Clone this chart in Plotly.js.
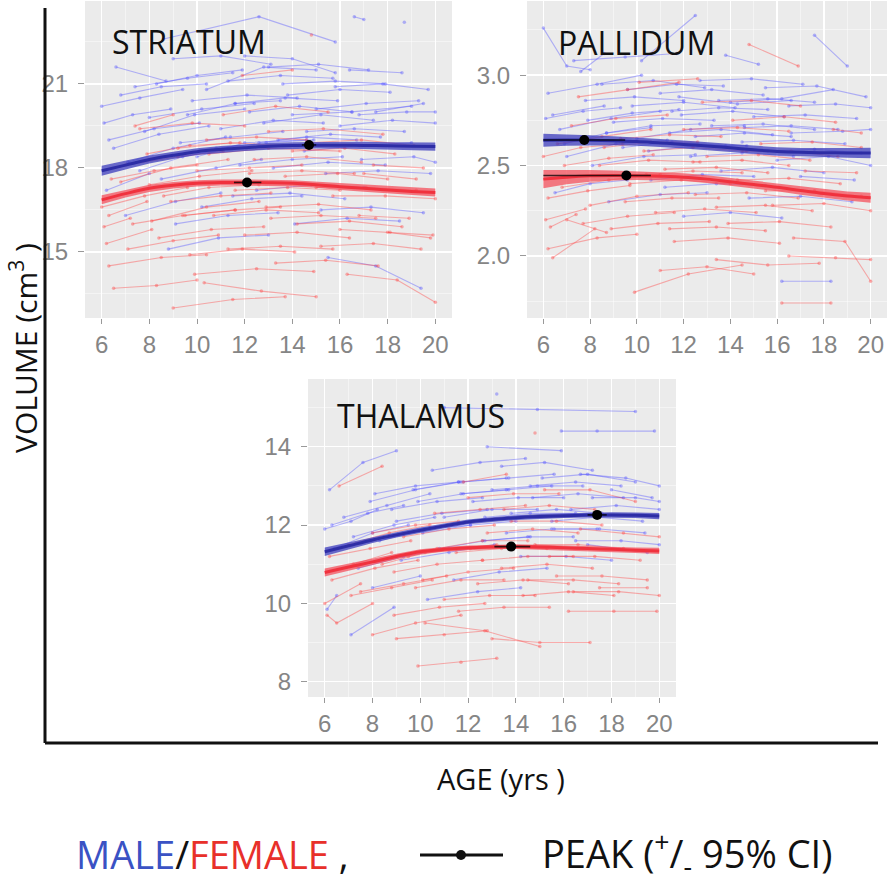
<!DOCTYPE html>
<html>
<head>
<meta charset="utf-8">
<script src="https://cdn.plot.ly/plotly-3.0.1.min.js"></script>
<style>html,body{margin:0;padding:0;background:#fff;}#chart{width:889px;height:880px;}</style>
</head>
<body>
<div id="chart"></div>
<script>
// ---------------- DATA ----------------
const xTickAges = [6, 8, 10, 12, 14, 16, 18, 20];
const panelNames = ["STRIATUM", "PALLIDUM", "THALAMUS"];

// individual trajectories: [ages, volumes]
const striatumMale = [
[[6.0,7.6,9.4],[20.2,20.5,20.8]],
[[6.3,8.2,10.1],[19.0,19.4,19.6]],
[[6.6,8.7],[21.6,21.1]],
[[7.1,9.0,11.2],[18.2,18.7,19.1]],
[[7.4,9.6,11.5],[20.9,21.2,21.4]],
[[8.0,10.2,12.4],[19.8,20.1,20.3]],
[[8.5,10.8,12.7],[17.6,18.0,18.3]],
[[9.0,11.0,13.1],[21.9,22.0,21.7]],
[[9.3,11.4,13.6],[18.9,19.1,19.3]],
[[9.8,12.1,14.2],[20.4,20.6,20.5]],
[[10.2,12.3,14.4],[16.6,16.9,17.0]],
[[8.6,12.6,15.8],[22.6,23.4,22.5]],
[[11.0,13.2,15.3],[19.4,19.7,19.6]],
[[11.3,13.5,15.7],[21.1,21.3,21.2]],
[[11.8,14.0,16.1],[18.1,18.3,18.4]],
[[12.2,14.3,16.5],[20.0,20.2,20.0]],
[[12.5,14.8,17.0],[17.2,17.4,17.3]],
[[13.0,15.1,17.2],[21.6,21.7,21.5]],
[[13.4,15.6,17.7],[19.0,19.2,19.1]],
[[13.8,16.0,18.1],[20.6,20.8,20.7]],
[[14.1,16.3,18.5],[16.0,16.2,16.1]],
[[14.5,16.8,19.0],[18.6,18.8,18.9]],
[[15.0,17.1,19.3],[20.1,20.3,20.4]],
[[15.4,17.6,19.8],[17.8,17.9,17.8]],
[[16.0,18.2,20.0],[19.5,19.7,19.6]],
[[16.4,18.6],[21.5,21.4]],
[[16.9,19.1,20.0],[18.3,18.4,18.2]],
[[6.2,8.0],[17.2,17.8]],
[[7.0,9.1,11.0],[16.3,16.8,17.1]],
[[8.8,10.9,13.0],[15.1,15.5,15.6]],
[[10.0,12.0,14.6],[18.4,18.9,19.0]],
[[12.0,14.0,15.8],[22.0,21.9,21.4]],
[[14.0,16.5,19.0],[19.9,20.0,20.2]],
[[15.5,17.5,19.4],[14.8,14.5,13.7]],
[[16.6,17.0],[23.4,23.3]],
[[18.7],[23.2]],
[[7.8,9.9,12.0],[19.3,19.9,20.1]],
[[11.5,13.9,16.2],[17.0,17.1,16.9]],
[[10.4,12.8,15.0],[20.8,21.6,21.5]],
[[13.2,15.5,17.9],[18.0,18.2,18.1]],
[[6.5,8.4,10.5],[18.7,19.2,19.5]],
[[17.5,19.5],[20.0,20.3]],
[[12.8,15.2,17.4],[19.6,19.9,19.7]],
[[6.1,7.3,8.9],[19.6,19.9,20.1]],
[[6.8,8.5,10.4],[20.6,20.9,21.0]],
[[7.6,9.4,11.3],[17.9,18.4,18.7]],
[[8.3,10.0,11.9],[21.0,21.3,21.5]],
[[9.6,11.6,13.5],[19.9,20.3,20.4]],
[[10.8,12.9,14.9],[18.7,18.9,19.0]],
[[11.6,13.7,15.9],[20.3,20.5,20.4]],
[[12.6,14.6,16.7],[18.9,19.1,19.0]],
[[13.6,15.8,17.9],[21.0,21.1,21.0]],
[[14.6,16.6,18.7],[19.3,19.4,19.3]],
[[15.8,17.8,19.7],[20.9,21.0,20.8]],
[[16.8,18.8,20.0],[19.9,20.0,20.0]],
[[9.1,11.3,13.4],[16.0,16.3,16.4]],
[[15.2,17.3,19.5],[16.5,16.6,16.4]]
];
const striatumFemale = [
[[6.0,7.8,9.6],[16.6,17.0,17.3]],
[[6.2,8.1],[15.3,15.8]],
[[6.3,8.5,10.4],[14.5,14.8,14.9]],
[[6.5,8.3,10.0],[13.7,13.8,14.0]],
[[7.0,9.2,11.1],[18.1,18.4,18.6]],
[[7.3,9.4,11.6],[16.0,16.3,16.5]],
[[7.6,9.8,12.0],[19.4,19.6,19.5]],
[[8.0,10.1,12.3],[17.4,17.7,17.9]],
[[8.4,10.6,12.8],[15.5,15.8,15.9]],
[[8.9,11.0,13.1],[16.8,17.0,17.1]],
[[9.2,11.4,13.6],[18.7,18.9,18.8]],
[[9.7,11.9,14.1],[14.9,15.1,15.0]],
[[10.0,12.2,14.4],[17.9,18.0,18.1]],
[[10.3,12.7,15.0],[13.9,13.6,13.4]],
[[10.7,12.9,15.1],[16.3,16.5,16.4]],
[[11.1,13.3,15.5],[19.9,20.2,20.0]],
[[11.6,13.8,16.0],[17.2,17.3,17.2]],
[[12.0,14.2,16.4],[15.6,15.7,15.5]],
[[12.4,14.6,16.9],[18.3,18.4,18.2]],
[[12.9,15.1,17.3],[16.6,16.7,16.5]],
[[13.3,15.4,17.6],[14.6,14.7,14.5]],
[[13.7,15.9,18.0],[17.7,17.8,17.6]],
[[14.2,16.4,18.6],[16.0,16.1,15.9]],
[[14.7,16.9,19.1],[18.9,19.0,18.8]],
[[15.2,17.4,19.4],[15.2,15.3,15.1]],
[[15.7,17.9,20.0],[17.0,17.0,16.9]],
[[16.3,18.4,20.0],[14.2,14.0,13.2]],
[[16.8,18.9],[16.3,16.2]],
[[17.4,19.5],[18.1,18.0]],
[[6.8,8.9,11.3],[17.5,18.0,18.3]],
[[9.9,12.5,14.9],[14.2,14.4,14.3]],
[[11.9,14.0],[21.3,21.5]],
[[14.8],[22.75]],
[[7.4,9.0],[19.5,19.9]],
[[8.1,10.4,12.6],[16.1,16.6,16.8]],
[[13.0,15.3,17.8],[19.3,19.4,19.2]],
[[18.0,19.8],[15.7,15.5]],
[[9.0,11.5,13.7],[13.0,13.3,13.4]],
[[10.5,13.0,16.0],[18.5,18.7,18.6]],
[[6.1,7.2],[15.9,16.2]],
[[6.4,8.2,10.0],[17.6,17.9,18.1]],
[[7.1,9.0,10.9],[15.1,15.4,15.6]],
[[7.9,9.7,11.8],[18.5,18.8,18.9]],
[[8.6,10.5,12.6],[17.0,17.3,17.4]],
[[9.5,11.6,13.5],[16.3,16.5,16.6]],
[[10.4,12.5,14.6],[19.0,19.1,19.0]],
[[11.3,13.5,15.7],[15.1,15.2,15.1]],
[[12.2,14.4,16.6],[17.8,17.9,17.8]],
[[13.1,15.2,17.5],[16.2,16.3,16.2]],
[[14.0,16.2,18.3],[18.6,18.7,18.5]],
[[15.0,17.1,19.2],[17.3,17.3,17.2]],
[[16.0,18.1,19.9],[15.8,15.7,15.6]],
[[6.3,7.9],[16.3,16.8]],
[[17.0,19.2],[17.8,17.6]]
];
const pallidumMale = [
[[6.0,7.0,8.0],[3.26,3.05,3.03]],
[[6.2,8.3,10.2],[2.90,2.95,3.00]],
[[6.4,8.6],[2.78,2.83]],
[[6.7,8.9,11.0],[2.70,2.76,2.80]],
[[7.0,9.1,11.3],[2.55,2.62,2.64]],
[[7.3,9.5,11.7],[3.08,3.10,3.12]],
[[7.8,9.9,12.0],[2.86,2.88,2.86]],
[[8.1,10.3,12.5],[2.50,2.55,2.56]],
[[8.5,10.7,12.9],[2.95,2.97,2.93]],
[[9.0,11.1,13.3],[2.74,2.76,2.75]],
[[9.4,11.5,13.8],[2.60,2.63,2.61]],
[[9.8,12.0,14.2],[2.83,2.85,2.82]],
[[10.2,12.5],[3.08,3.33]],
[[10.6,12.8,15.0],[2.42,2.45,2.44]],
[[11.0,13.2,15.4],[2.90,2.92,2.89]],
[[11.4,13.6,15.8],[2.68,2.70,2.67]],
[[11.9,14.1,16.3],[2.78,2.80,2.77]],
[[12.3,14.5,16.7],[2.55,2.57,2.55]],
[[12.7,14.9,17.1],[2.97,2.98,2.95]],
[[13.2,15.4,17.6],[2.72,2.73,2.70]],
[[13.6,15.8,18.0],[2.47,2.49,2.46]],
[[14.0,16.2,18.4],[2.85,2.87,2.92]],
[[14.5,16.7,18.9],[2.63,2.64,2.62]],
[[15.0,17.2,19.4],[2.77,2.78,2.76]],
[[15.5,17.7,19.8],[2.93,2.94,2.88]],
[[16.0,18.2,20.0],[2.53,2.55,2.50]],
[[16.2,18.3],[1.86,1.86]],
[[16.6,18.8,20.0],[2.68,2.69,2.70]],
[[6.5,8.0,9.6],[2.35,2.40,2.42]],
[[8.8,11.0,13.0],[2.30,2.34,2.35]],
[[12.0,14.0,16.2],[2.22,2.24,2.21]],
[[14.8,17.0,19.2],[2.32,2.33,2.30]],
[[10.0,12.3,14.6],[2.65,2.70,2.72]],
[[13.8,15.2],[3.11,3.06]],
[[17.6,19.0],[3.22,3.05]],
[[7.6,8.6],[3.02,3.12]],
[[11.8,14.3,16.6],[2.88,2.84,2.86]],
[[17.0,19.3],[2.44,2.42]],
[[6.1,7.7,9.3],[2.76,2.80,2.82]],
[[6.9,8.7,10.6],[2.62,2.68,2.71]],
[[7.9,9.8,11.8],[2.75,2.79,2.81]],
[[8.7,10.6,12.7],[2.68,2.72,2.73]],
[[9.6,11.7,13.7],[2.92,2.95,2.94]],
[[10.5,12.6,14.7],[2.58,2.61,2.61]],
[[11.5,13.5,15.6],[2.80,2.82,2.81]],
[[12.5,14.6,16.6],[2.66,2.68,2.66]],
[[13.5,15.6,17.6],[2.86,2.87,2.85]],
[[14.6,16.6,18.6],[2.71,2.72,2.70]],
[[15.6,17.6,19.6],[2.58,2.59,2.57]],
[[16.5,18.5,20.0],[2.83,2.84,2.82]],
[[11.2,13.4,15.5],[2.38,2.40,2.39]]
];
const pallidumFemale = [
[[6.0,7.6,9.4],[2.55,2.60,2.62]],
[[6.1,7.8],[2.20,2.26]],
[[6.2,8.3,10.0],[2.04,2.10,2.12]],
[[6.4,8.2],[1.99,2.15]],
[[6.8,8.8,11.0],[2.38,2.42,2.45]],
[[7.2,9.1,11.3],[2.72,2.76,2.78]],
[[7.5,9.6,11.8],[2.88,2.92,2.96]],
[[8.0,10.0,12.2],[2.28,2.33,2.35]],
[[8.4,10.5,12.7],[2.50,2.53,2.52]],
[[8.9,10.9,13.1],[2.15,2.18,2.19]],
[[9.3,11.4,13.6],[2.65,2.67,2.66]],
[[9.7,11.9,14.0],[2.40,2.42,2.40]],
[[9.9,12.2,14.5],[1.80,1.90,1.95]],
[[10.3,12.4,14.7],[2.58,2.60,2.58]],
[[10.8,12.9,15.1],[2.24,2.26,2.24]],
[[11.2,13.4,15.6],[2.48,2.49,2.46]],
[[11.6,13.9,16.1],[2.08,2.10,2.07]],
[[12.0,14.3,16.5],[2.70,2.71,2.69]],
[[12.5,14.7,16.9],[2.34,2.35,2.32]],
[[13.0,15.2,17.4],[2.55,2.56,2.53]],
[[13.4,15.6,17.8],[1.98,1.95,1.96]],
[[13.9,16.1,18.3],[2.18,2.19,2.16]],
[[14.3,16.5,18.7],[2.42,2.43,2.40]],
[[14.8,16.9],[3.17,3.05]],
[[15.3,17.5,19.6],[2.62,2.63,2.60]],
[[15.8,18.0,20.0],[2.28,2.29,2.25]],
[[16.2,18.3],[1.74,1.74]],
[[16.7,18.9,20.0],[2.10,2.08,1.86]],
[[17.2,19.4],[2.47,2.46]],
[[7.0,8.7],[2.20,2.13]],
[[11.0,13.0,15.0],[1.92,1.94,1.90]],
[[12.8,14.9,17.0],[2.85,2.86,2.83]],
[[6.6,8.5,10.6],[2.62,2.66,2.70]],
[[18.4,19.6],[2.70,2.68]],
[[10.1,12.6],[2.96,2.98]],
[[14.1,16.3,18.5],[2.75,2.77,2.74]],
[[6.2,7.9,9.7],[2.32,2.36,2.39]],
[[6.9,8.8,10.7],[2.50,2.54,2.56]],
[[7.7,9.6,11.6],[2.18,2.22,2.24]],
[[8.6,10.6,12.6],[2.60,2.63,2.63]],
[[9.5,11.5,13.5],[2.30,2.32,2.32]],
[[10.4,12.4,14.5],[2.45,2.47,2.46]],
[[11.4,13.4,15.5],[2.15,2.16,2.14]],
[[12.4,14.5,16.5],[2.52,2.53,2.50]],
[[13.4,15.5,17.5],[2.27,2.28,2.25]],
[[14.5,16.6,18.6],[2.58,2.58,2.55]],
[[15.5,17.6,19.6],[2.36,2.36,2.33]],
[[16.5,18.5,20.0],[2.00,1.99,1.98]],
[[6.3,7.4],[2.16,2.23]]
];
const thalamusMale = [
[[6.0,7.1,8.2],[11.9,12.1,12.4]],
[[6.2,7.6,9.0],[12.9,13.6,13.9]],
[[6.4,8.0,9.5],[11.4,11.8,12.0]],
[[6.8,8.6,10.4],[12.2,12.5,12.8]],
[[7.1,8.9],[9.2,9.9]],
[[7.4,9.3,11.2],[10.9,11.2,11.4]],
[[7.9,9.8,11.7],[12.6,12.9,13.1]],
[[8.3,10.2,12.1],[11.6,11.9,12.0]],
[[8.8,10.7,12.6],[12.4,12.6,12.7]],
[[9.2,11.2,13.1],[11.1,11.3,11.5]],
[[9.7,11.6,13.6],[12.9,13.1,13.2]],
[[10.1,12.1,14.0],[11.8,12.0,12.1]],
[[10.5,12.5,14.4],[13.4,13.6,13.7]],
[[11.0,13.0,14.9],[12.2,12.4,12.4]],
[[11.4,13.3,15.3],[10.6,10.8,10.9]],
[[11.8,13.7,15.6],[13.1,13.2,13.3]],
[[12.2,14.1,16.0],[12.6,12.7,12.7]],
[[12.6,14.5,16.4],[11.6,11.7,11.7]],
[[13.0,14.9,16.8],[12.9,13.0,13.0]],
[[13.4,15.2,17.2],[13.5,13.6,13.4]],
[[13.8,15.7,17.6],[12.3,12.4,12.3]],
[[14.2,16.1,18.0],[11.2,11.2,11.1]],
[[14.7,16.6,18.5],[12.7,12.8,12.7]],
[[15.1,17.0,19.0],[13.2,13.3,13.1]],
[[15.6,17.5,19.4],[11.9,11.9,11.8]],
[[15.9,17.4,19.8],[14.4,14.4,14.4]],
[[16.3,18.2,20.0],[12.4,12.5,12.4]],
[[16.7,18.6,20.0],[13.3,13.2,13.0]],
[[11.0,14.9,19.0],[15.0,14.95,14.9]],
[[12.8,15.9],[14.0,13.9]],
[[13.2],[15.35]],
[[17.0,19.5],[11.5,11.3]],
[[8.0,10.0],[10.4,10.7]],
[[10.3,12.4,14.2],[10.1,10.3,10.4]],
[[18.0,19.7],[12.9,12.7]],
[[6.1,6.5],[9.85,10.2]],
[[6.3,7.8,9.3],[12.0,12.3,12.5]],
[[7.2,8.9,10.6],[11.7,12.0,12.2]],
[[8.1,9.8,11.6],[12.8,13.0,13.1]],
[[9.0,10.9,12.8],[12.1,12.3,12.4]],
[[9.9,11.8,13.7],[12.6,12.8,12.9]],
[[10.8,12.7,14.6],[11.4,11.6,11.7]],
[[11.7,13.6,15.5],[12.8,12.9,13.0]],
[[12.7,14.6,16.5],[12.2,12.3,12.3]],
[[13.6,15.5,17.4],[11.8,11.9,11.9]],
[[14.6,16.5,18.4],[13.0,13.1,13.0]],
[[15.5,17.4,19.3],[12.1,12.2,12.1]],
[[16.5,18.4,20.0],[11.6,11.6,11.5]],
[[17.2,19.0,20.0],[12.7,12.7,12.6]]
];
const thalamusFemale = [
[[6.0,7.5],[10.0,10.5]],
[[6.1,6.5,8.0],[9.7,9.5,10.0]],
[[6.3,8.1,9.9],[10.6,10.9,11.1]],
[[6.6,8.4],[13.0,13.5]],
[[7.0,8.7,10.4],[11.5,11.8,12.0]],
[[7.5,9.3,11.1],[10.3,10.5,10.7]],
[[8.0,9.8,11.7],[9.2,9.5,9.7]],
[[8.4,10.2,12.1],[11.0,11.3,11.4]],
[[8.9,10.8,12.7],[9.7,9.9,10.0]],
[[9.3,11.2,13.1],[11.7,11.9,12.0]],
[[9.9,11.7,13.2],[8.4,8.5,8.6]],
[[10.1,12.0,13.9],[10.6,10.8,10.9]],
[[10.2,12.7,15.0],[9.5,9.3,8.9]],
[[10.6,12.5,14.4],[12.3,12.4,12.5]],
[[11.0,12.9,14.8],[10.1,10.2,10.2]],
[[11.5,13.4,15.3],[11.3,11.4,11.4]],
[[12.0,13.9,15.8],[12.7,12.8,12.8]],
[[12.4,14.3,16.2],[10.5,10.6,10.5]],
[[12.8,14.7,16.6],[11.8,11.9,11.8]],
[[13.0,15.0,17.1],[9.1,9.0,9.0]],
[[13.4,15.3,17.2],[10.9,11.0,10.9]],
[[13.8,15.7,17.6],[12.1,12.1,12.0]],
[[14.3,16.2,18.1],[10.2,10.3,10.2]],
[[14.8,16.6,18.5],[11.5,11.5,11.4]],
[[15.2,17.1,19.0],[12.9,12.9,12.6]],
[[15.7,17.6,19.5],[10.7,10.7,10.6]],
[[16.2,18.1,19.9],[9.8,9.8,9.8]],
[[16.7,18.5,20.0],[11.9,11.8,11.7]],
[[14.8],[14.35]],
[[7.2,8.8],[11.0,11.3]],
[[9.5,11.5,13.2],[11.2,11.4,11.5]],
[[17.5,19.5],[10.4,10.4]],
[[11.8,13.6],[13.1,13.3]],
[[6.2,7.9,9.6],[11.2,11.4,11.6]],
[[7.1,8.8,10.5],[10.2,10.4,10.6]],
[[8.0,9.8,11.6],[11.8,12.0,12.1]],
[[8.9,10.7,12.6],[10.8,11.0,11.1]],
[[9.8,11.7,13.5],[10.4,10.6,10.6]],
[[10.7,12.6,14.5],[11.4,11.6,11.6]],
[[11.6,13.5,15.4],[9.8,9.9,9.9]],
[[12.6,14.5,16.4],[11.1,11.2,11.2]],
[[13.5,15.4,17.3],[12.4,12.5,12.4]],
[[14.5,16.4,18.3],[10.6,10.6,10.5]],
[[15.4,17.3,19.2],[11.2,11.2,11.1]],
[[16.4,18.3,20.0],[10.3,10.3,10.2]],
[[9.0,11.0,12.8],[9.1,9.2,9.3]]
];

// fitted mean trajectories and their CI half-widths
const fitAge = [6,7,8,9,10,11,12,13,14,15,16,17,18,19,20];
const striatumMaleFit   = [17.9,18.1,18.3,18.45,18.58,18.66,18.72,18.77,18.8,18.81,18.81,18.8,18.79,18.77,18.76];
const striatumMaleCI    = [0.18,0.16,0.14,0.13,0.12,0.12,0.12,0.12,0.12,0.12,0.12,0.13,0.13,0.14,0.15];
const striatumFemaleFit = [16.86,17.08,17.27,17.38,17.45,17.48,17.48,17.47,17.45,17.4,17.33,17.27,17.21,17.16,17.12];
const striatumFemaleCI  = [0.16,0.14,0.13,0.12,0.11,0.11,0.11,0.11,0.11,0.11,0.12,0.12,0.13,0.13,0.14];
const pallidumMaleFit   = [2.64,2.641,2.64,2.637,2.633,2.625,2.617,2.608,2.598,2.587,2.578,2.573,2.571,2.57,2.57];
const pallidumMaleCI    = [0.036,0.032,0.028,0.025,0.023,0.022,0.022,0.022,0.022,0.022,0.023,0.024,0.025,0.027,0.029];
const pallidumFemaleFit = [2.425,2.436,2.443,2.445,2.444,2.441,2.436,2.425,2.41,2.395,2.38,2.362,2.345,2.332,2.322];
const pallidumFemaleCI  = [0.05,0.04,0.032,0.027,0.024,0.022,0.021,0.021,0.021,0.021,0.022,0.023,0.024,0.025,0.027];
const thalamusMaleFit   = [11.32,11.47,11.62,11.75,11.87,11.98,12.08,12.14,12.19,12.22,12.24,12.255,12.26,12.25,12.23];
const thalamusMaleCI    = [0.11,0.09,0.08,0.07,0.07,0.06,0.06,0.06,0.06,0.06,0.06,0.06,0.07,0.07,0.08];
const thalamusFemaleFit = [10.79,10.93,11.06,11.2,11.32,11.38,11.42,11.44,11.45,11.44,11.42,11.4,11.38,11.36,11.34];
const thalamusFemaleCI  = [0.1,0.09,0.08,0.07,0.06,0.06,0.06,0.06,0.06,0.06,0.06,0.06,0.07,0.07,0.08];

// peaks [male, female] with 95% CI
const striatumPeakAge = [14.7, 12.1];
const striatumPeakVol = [18.82, 17.48];
const striatumPeakLo  = [14.4, 11.55];
const striatumPeakHi  = [15.0, 12.7];
const pallidumPeakAge = [7.75, 9.55];
const pallidumPeakVol = [2.641, 2.445];
const pallidumPeakLo  = [6.0, 6.0];
const pallidumPeakHi  = [9.5, 10.6];
const thalamusPeakAge = [17.4, 13.8];
const thalamusPeakVol = [12.26, 11.45];
const thalamusPeakLo  = [17.0, 13.1];
const thalamusPeakHi  = [17.8, 14.6];

// ---------------- STYLE ----------------
const W = 889, H = 880;
const MALE_SPAG = 'rgba(85,85,255,0.42)';
const FEMALE_SPAG = 'rgba(255,70,70,0.42)';
const MALE_LINE = 'rgb(45,45,165)';
const MALE_BAND = 'rgba(60,60,190,0.75)';
const FEMALE_LINE = 'rgb(240,50,62)';
const FEMALE_BAND = 'rgba(245,70,82,0.7)';

function spag(trajs, color, xa, ya) {
  const x = [], y = [];
  trajs.forEach(t => { x.push(...t[0], null); y.push(...t[1], null); });
  return {type:'scatter', mode:'lines+markers', x, y, xaxis:xa, yaxis:ya,
    line:{color, width:1.1}, marker:{color, size:3.5}, connectgaps:false,
    hoverinfo:'skip', showlegend:false};
}
function band(fit, ci, fill, line, xa, ya) {
  const up = fit.map((v,i)=>v+ci[i]);
  const lo = fit.map((v,i)=>v-ci[i]);
  return [
    {type:'scatter', mode:'lines', x: fitAge.concat(fitAge.slice().reverse()),
     y: up.concat(lo.slice().reverse()), fill:'toself', fillcolor:fill,
     line:{width:0, color:fill}, xaxis:xa, yaxis:ya, hoverinfo:'skip', showlegend:false},
    {type:'scatter', mode:'lines', x: fitAge, y: fit, line:{color:line, width:3, shape:'spline'},
     xaxis:xa, yaxis:ya, hoverinfo:'skip', showlegend:false}
  ];
}
function peaks(ages, vols, lo, hi, xa, ya) {
  return {type:'scatter', mode:'markers', x: ages, y: vols, xaxis:xa, yaxis:ya,
    marker:{color:'black', size:10},
    error_x:{type:'data', symmetric:false,
      array: hi.map((h,i)=>h-ages[i]), arrayminus: ages.map((a,i)=>a-lo[i]),
      color:'rgba(0,0,0,0.75)', thickness:1.6, width:0},
    hoverinfo:'skip', showlegend:false};
}

const traces = [
  spag(striatumMale, MALE_SPAG, 'x', 'y'),
  spag(striatumFemale, FEMALE_SPAG, 'x', 'y'),
  spag(pallidumMale, MALE_SPAG, 'x2', 'y2'),
  spag(pallidumFemale, FEMALE_SPAG, 'x2', 'y2'),
  spag(thalamusMale, MALE_SPAG, 'x3', 'y3'),
  spag(thalamusFemale, FEMALE_SPAG, 'x3', 'y3'),
  ...band(striatumMaleFit, striatumMaleCI, MALE_BAND, MALE_LINE, 'x', 'y'),
  ...band(striatumFemaleFit, striatumFemaleCI, FEMALE_BAND, FEMALE_LINE, 'x', 'y'),
  ...band(pallidumMaleFit, pallidumMaleCI, MALE_BAND, MALE_LINE, 'x2', 'y2'),
  ...band(pallidumFemaleFit, pallidumFemaleCI, FEMALE_BAND, FEMALE_LINE, 'x2', 'y2'),
  ...band(thalamusMaleFit, thalamusMaleCI, MALE_BAND, MALE_LINE, 'x3', 'y3'),
  ...band(thalamusFemaleFit, thalamusFemaleCI, FEMALE_BAND, FEMALE_LINE, 'x3', 'y3'),
  peaks(striatumPeakAge, striatumPeakVol, striatumPeakLo, striatumPeakHi, 'x', 'y'),
  peaks(pallidumPeakAge, pallidumPeakVol, pallidumPeakLo, pallidumPeakHi, 'x2', 'y2'),
  peaks(thalamusPeakAge, thalamusPeakVol, thalamusPeakLo, thalamusPeakHi, 'x3', 'y3')
];

const tickFont = {family:'"Liberation Sans", Arial, sans-serif', size:24, color:'#858585'};
function xax(l, r, anchor) {
  return {domain:[l/W, r/W], range:[5.3, 20.7], anchor, tickvals: xTickAges,
    ticks:'outside', ticklen:5, tickcolor:'#999', tickwidth:1, tickfont:tickFont,
    showgrid:true, gridcolor:'#ffffff', gridwidth:1.4, zeroline:false, showline:false,
    minor:{dtick:1, tick0:6, showgrid:true, gridcolor:'rgba(255,255,255,0.65)', gridwidth:0.7},
    fixedrange:true};
}
function yax(top, bot, range, dtick, tick0, minorDtick, fmt, anchor) {
  return {domain:[1-bot/H, 1-top/H], range, anchor, dtick, tick0, tickformat: fmt,
    ticks:'outside', ticklen:6, tickcolor:'#999', tickwidth:1, tickfont:tickFont,
    ticklabelstandoff:5,
    showgrid:true, gridcolor:'#ffffff', gridwidth:1.4, zeroline:false, showline:false,
    minor:{dtick:minorDtick, tick0, showgrid:true, gridcolor:'rgba(255,255,255,0.65)', gridwidth:0.7},
    fixedrange:true};
}

const txt = {family:'"Open Sans", sans-serif', color:'#111'};
function ann(text, x, y, size, opts) {
  return Object.assign({text, x:x/W, y:1-y/H, xref:'paper', yref:'paper', showarrow:false,
    xanchor:'left', yanchor:'middle', font:Object.assign({}, txt, {size})}, opts||{});
}

const layout = {
  width:W, height:H, margin:{l:0, r:0, t:0, b:0},
  paper_bgcolor:'#ffffff', plot_bgcolor:'#EBEBEB', showlegend:false,
  xaxis: xax(85, 452, 'y'),
  yaxis: yax(1, 318, [12.64, 23.96], 3, 15, 1.5, '', 'x'),
  xaxis2: xax(527, 887, 'y2'),
  yaxis2: yax(1, 318, [1.657, 3.41], 0.5, 2, 0.25, '.1f', 'x2'),
  xaxis3: xax(308, 676, 'y3'),
  yaxis3: yax(379, 697, [7.61, 15.73], 2, 8, 1, '', 'x3'),
  shapes: [
    {type:'line', xref:'paper', yref:'paper', x0:45/W, x1:45/W, y0:1-8/H, y1:1-743/H, line:{color:'#111', width:3}},
    {type:'line', xref:'paper', yref:'paper', x0:45/W, x1:878/W, y0:1-743/H, y1:1-743/H, line:{color:'#111', width:3}},
    {type:'line', xref:'paper', yref:'paper', x0:420/W, x1:503/W, y0:1-855/H, y1:1-855/H, line:{color:'#111', width:3}},
    {type:'circle', xref:'paper', yref:'paper', x0:456/W, x1:466/W, y0:1-860/H, y1:1-850/H, fillcolor:'#111', line:{color:'#111', width:0}}
  ],
  annotations: [
    ann(panelNames[0], 110, 41, 32),
    ann(panelNames[1], 556, 43, 32),
    ann(panelNames[2], 335, 416, 32),
    ann('AGE (yrs )', 501, 778, 29, {xanchor:'center'}),
    ann('VOLUME (cm<sup>3</sup> )', 24, 348, 30, {xanchor:'center', textangle:-90}),
    ann('<span style="color:#3a52c4">MALE</span>/<span style="color:#e8302a">FEMALE</span> ,', 74, 854, 38),
    ann('PEAK (<sup>+</sup>/<sub>-</sub> 95% CI)', 540, 854, 38)
  ]
};

Plotly.newPlot('chart', traces, layout, {staticPlot:true, displayModeBar:false});
</script>
</body>
</html>
